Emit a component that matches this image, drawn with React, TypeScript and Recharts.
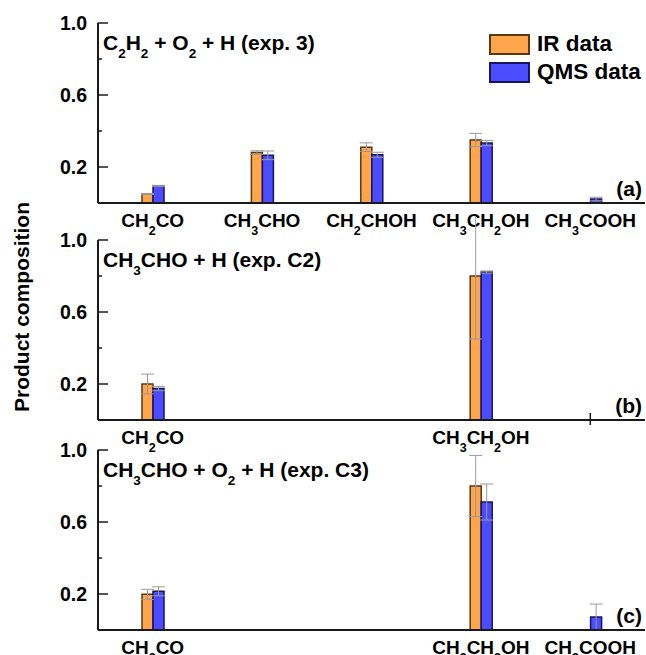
import React from 'react';
import { Bar, BarChart, ErrorBar, Legend, XAxis, YAxis } from 'recharts';

const FONT = '"Liberation Sans", Arial, Helvetica, sans-serif';
const ORANGE = '#FFA64D';
const ORANGE_EDGE = '#5A3812';
const BLUE = '#4B4BFF';
const BLUE_EDGE = '#16165E';
const ERR = '#9A9A9A';
const AXIS = '#1A1A1A';

// "_n" marks a subscript digit
const categories = ['CH_2CO', 'CH_3CHO', 'CH_2CHOH', 'CH_3CH_2OH', 'CH_3COOH'];

const yTicks = [0.2, 0.4, 0.6, 0.8, 1.0];
const yLabels = [0.2, 0.6, 1.0];

// (a) C2H2 + O2 + H (exp. 3)
const irA = [0.05, 0.28, 0.31, 0.35, null];
const irErrA = [0.003, 0.01, 0.024, 0.037, null];
const qmsA = [0.095, 0.265, 0.268, 0.333, 0.022];
const qmsErrA = [0.003, 0.024, 0.014, 0.015, 0.01];

// (b) CH3CHO + H (exp. C2)
const irB = [0.2, null, null, 0.8, null];
const irErrB = [0.055, null, null, 0.35, null];
const qmsB = [0.175, null, null, 0.822, null];
const qmsErrB = [0.012, null, null, 0.006, null];

// (c) CH3CHO + O2 + H (exp. C3)
const irC = [0.198, null, null, 0.8, null];
const irErrC = [0.028, null, null, 0.17, null];
const qmsC = [0.215, null, null, 0.711, 0.072];
const qmsErrC = [0.025, null, null, 0.1, 0.072];

const titles = ['C_2H_2 + O_2 + H (exp. 3)', 'CH_3CHO + H (exp. C2)', 'CH_3CHO + O_2 + H (exp. C3)'];
const letters = ['(a)', '(b)', '(c)'];
const topTicks = [[0, 1, 2, 3, 4], [0, 3], [0, 3]];
const bottomTicks = [[], [4], []];

const PLOT_TOP = [23, 240, 450];
const PLOT_H = 180;
const MARGIN_TOP = 23;

const makeRows = (ir: any[], irErr: any[], qms: any[], qmsErr: any[]) =>
  categories.map((name, i) => ({ name, ir: ir[i], irErr: irErr[i], qms: qms[i], qmsErr: qmsErr[i] }));

const panels = [
  makeRows(irA, irErrA, qmsA, qmsErrA),
  makeRows(irB, irErrB, qmsB, qmsErrB),
  makeRows(irC, irErrC, qmsC, qmsErrC),
];

const subText = (s: string, subSize: number, shift: number) => {
  const parts = s.split(/_(\d)/);
  let down = false;
  return parts.map((p, i) => {
    if (i % 2 === 1) {
      down = true;
      return (
        <tspan key={i} fontSize={subSize} dy={shift}>
          {p}
        </tspan>
      );
    }
    const dy = down ? -shift : 0;
    down = false;
    return (
      <tspan key={i} dy={dy}>
        {p}
      </tspan>
    );
  });
};

const YTick = (props: any) => {
  const { x, y, payload } = props;
  const major = yLabels.some((v) => Math.abs(v - payload.value) < 1e-6);
  return (
    <g>
      <line x1={x + 11} x2={x + 11 + (major ? 10 : 4)} y1={y} y2={y} stroke={AXIS} strokeWidth={1.5} />
      {major && (
        <text x={x} y={y} dy={7} textAnchor="end" fontSize={19.5} fontWeight="bold" fontFamily={FONT} fill="#000">
          {payload.value.toFixed(1)}
        </text>
      )}
    </g>
  );
};

const LegendBox = (props: any) => {
  const items = props.payload || [];
  return (
    <div style={{ fontFamily: FONT, fontWeight: 'bold', fontSize: 22.5, color: '#000' }}>
      {items.map((e: any) => (
        <div key={e.value} style={{ display: 'flex', alignItems: 'center', height: 28 }}>
          <span
            style={{
              display: 'inline-block',
              boxSizing: 'border-box',
              width: 41,
              height: 21,
              background: e.color,
              border: `2px solid ${e.color === ORANGE ? ORANGE_EDGE : BLUE_EDGE}`,
            }}
          />
          <span style={{ marginLeft: 7 }}>{e.value}</span>
        </div>
      ))}
    </div>
  );
};

const Panel = ({ idx, height }: { idx: number; height: number }) => {
  const rows = panels[idx];
  const bottom = height - MARGIN_TOP - PLOT_H;

  const BottomTick = (p: any) => {
    const i = p.payload?.index ?? p.index;
    const row = rows[i];
    const show = row && (row.ir != null || row.qms != null);
    return (
      <g>
        {bottomTicks[idx].includes(i) && <line x1={p.x} x2={p.x} y1={p.y - 7} y2={p.y + 5} stroke={AXIS} strokeWidth={1.5} />}
        {show && (
          <text x={p.x} y={p.y + 24} textAnchor="middle" fontSize={19} fontWeight="bold" fontFamily={FONT} fill="#000">
            {subText(categories[i], 12.5, 7.5)}
          </text>
        )}
      </g>
    );
  };

  const TopTick = (p: any) => {
    const i = p.payload?.index ?? p.index;
    if (!topTicks[idx].includes(i)) return <g />;
    return <line x1={p.x} x2={p.x} y1={p.y} y2={p.y + 9} stroke={AXIS} strokeWidth={1.5} />;
  };

  return (
    <BarChart
      width={646}
      height={height}
      data={rows}
      barGap={0}
      margin={{ top: MARGIN_TOP, right: 1, left: 0, bottom: 0 }}
    >
      <XAxis
        dataKey="name"
        height={bottom}
        interval={0}
        tickSize={0}
        tickMargin={0}
        tickLine={false}
        axisLine={{ stroke: AXIS, strokeWidth: 2 }}
        tick={BottomTick}
      />
      <XAxis
        xAxisId="top"
        orientation="top"
        dataKey="name"
        height={0}
        interval={0}
        tickSize={0}
        tickMargin={0}
        tickLine={false}
        axisLine={{ stroke: AXIS, strokeWidth: 2 }}
        tick={TopTick}
      />
      <YAxis
        width={98}
        domain={[0, 1]}
        ticks={yTicks}
        allowDataOverflow
        interval={0}
        tickSize={0}
        tickMargin={11}
        tickLine={false}
        axisLine={{ stroke: AXIS, strokeWidth: 2 }}
        tick={YTick}
      />
      <YAxis
        yAxisId="right"
        orientation="right"
        width={0}
        domain={[0, 1]}
        tick={false}
        tickLine={false}
        axisLine={{ stroke: AXIS, strokeWidth: 2 }}
      />
      {idx === 0 && (
        <Legend
          layout="vertical"
          align="center"
          verticalAlign="middle"
          wrapperStyle={{ top: 30, left: 489, width: 'auto', height: 'auto' }}
          content={LegendBox}
        />
      )}
      <Bar dataKey="ir" name="IR data" fill={ORANGE} stroke={ORANGE_EDGE} strokeWidth={1.5} barSize={11} isAnimationActive={false}>
        <ErrorBar dataKey="irErr" width={6.5} stroke={ERR} strokeWidth={1} />
      </Bar>
      <Bar dataKey="qms" name="QMS data" fill={BLUE} stroke={BLUE_EDGE} strokeWidth={1.5} barSize={11} isAnimationActive={false}>
        <ErrorBar dataKey="qmsErr" width={6.5} stroke={ERR} strokeWidth={1} />
      </Bar>
    </BarChart>
  );
};

const App = () => {
  return (
    <div style={{ position: 'absolute', left: 0, top: 0, width: 646, height: 655, background: '#fff', overflow: 'hidden' }}>
      {PLOT_TOP.map((top, i) => (
        <div key={i} style={{ position: 'absolute', left: 0, top: top - MARGIN_TOP }}>
          <Panel idx={i} height={i === 2 ? 655 - (top - MARGIN_TOP) : 240} />
        </div>
      ))}
      <svg
        width={646}
        height={655}
        style={{ position: 'absolute', left: 0, top: 0, pointerEvents: 'none' }}
        fontFamily={FONT}
        fontWeight="bold"
      >
        <text x={-307} y={29} transform="rotate(-90)" textAnchor="middle" fontSize={21} fill="#000">
          Product composition
        </text>
        {PLOT_TOP.map((top, i) => (
          <g key={i}>
            <text x={103} y={top + 27} fontSize={21} fill="#000">
              {subText(titles[i], 13.5, 8)}
            </text>
            <text x={642} y={top + PLOT_H - 7} fontSize={21} textAnchor="end" fill="#000">
              {letters[i]}
            </text>
          </g>
        ))}
      </svg>
    </div>
  );
};

export default App;
